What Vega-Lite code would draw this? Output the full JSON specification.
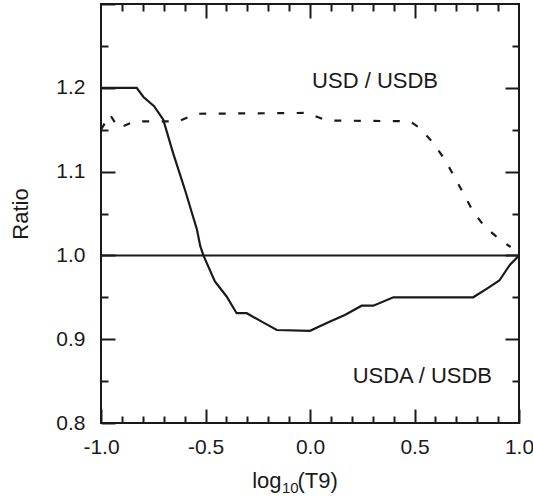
{
  "$schema": "https://vega.github.io/schema/vega-lite/v6.json",
  "width": 418,
  "height": 419,
  "autosize": {"type": "none"},
  "padding": {"left": 101, "top": 4, "right": 14, "bottom": 76},
  "config": {
    "view": {"stroke": "#1a1a1a", "strokeWidth": 2},
    "font": "Liberation Sans",
    "axis": {
      "grid": false,
      "domain": false,
      "tickColor": "#1a1a1a",
      "tickWidth": 2,
      "labelColor": "#1a1a1a",
      "titleColor": "#1a1a1a",
      "labelFont": "Liberation Sans",
      "titleFont": "Liberation Sans",
      "labelFontSize": 21,
      "titleFontSize": 22,
      "titleFontWeight": "normal",
      "labelFlush": false,
      "labelOverlap": false
    }
  },
  "resolve": {"axis": {"x": "independent", "y": "independent"}},
  "layer": [
    {
      "data": {"values": [{"x0": -1, "x1": 1, "ratio": 1.0}]},
      "mark": {"type": "rule", "color": "#1a1a1a", "strokeWidth": 2},
      "encoding": {
        "x": {"field": "x0", "type": "quantitative", "scale": {"domain": [-1, 1], "nice": false, "zero": false},
          "axis": {"orient": "bottom", "ticks": false, "labels": false, "title": "(T9)", "titleAlign": "left", "titleBaseline": "alphabetic", "titleX": 196, "titleY": 64}},
        "x2": {"field": "x1"},
        "y": {"field": "ratio", "type": "quantitative", "scale": {"domain": [0.8, 1.3], "nice": false, "zero": false}, "axis": null}
      }
    },
    {
      "data": {"values": [
        {"logT9": -1.0, "ratio": 1.2},
        {"logT9": -0.829, "ratio": 1.2},
        {"logT9": -0.797, "ratio": 1.189},
        {"logT9": -0.746, "ratio": 1.178},
        {"logT9": -0.702, "ratio": 1.162},
        {"logT9": -0.655, "ratio": 1.122},
        {"logT9": -0.598, "ratio": 1.078},
        {"logT9": -0.541, "ratio": 1.031},
        {"logT9": -0.525, "ratio": 1.011},
        {"logT9": -0.51, "ratio": 1.0},
        {"logT9": -0.455, "ratio": 0.969},
        {"logT9": -0.399, "ratio": 0.951},
        {"logT9": -0.351, "ratio": 0.931},
        {"logT9": -0.303, "ratio": 0.931},
        {"logT9": -0.231, "ratio": 0.921},
        {"logT9": -0.159, "ratio": 0.911},
        {"logT9": 0.0, "ratio": 0.91},
        {"logT9": 0.096, "ratio": 0.921},
        {"logT9": 0.167, "ratio": 0.929},
        {"logT9": 0.247, "ratio": 0.94},
        {"logT9": 0.303, "ratio": 0.94},
        {"logT9": 0.399, "ratio": 0.95},
        {"logT9": 0.781, "ratio": 0.95},
        {"logT9": 0.845, "ratio": 0.96},
        {"logT9": 0.906, "ratio": 0.97},
        {"logT9": 0.957, "ratio": 0.989},
        {"logT9": 1.0, "ratio": 1.0}
      ]},
      "mark": {"type": "line", "color": "#1a1a1a", "strokeWidth": 2.2},
      "encoding": {
        "x": {"field": "logT9", "type": "quantitative", "scale": {"domain": [-1, 1], "nice": false, "zero": false},
          "axis": {"orient": "bottom", "values": [-1, -0.5, 0, 0.5, 1], "tickSize": -14, "labelPadding": 27.5, "labelExpr": "replace(format(datum.value, '.1f'), '−', '-')", "title": "log", "titleAlign": "right", "titleBaseline": "alphabetic", "titleX": 180, "titleY": 64}},
        "y": {"field": "ratio", "type": "quantitative", "scale": {"domain": [0.8, 1.3], "nice": false, "zero": false},
          "axis": {"orient": "left", "values": [0.8, 0.9, 1.0, 1.1, 1.2, 1.3], "tickSize": -14, "labelPadding": 30, "labelExpr": "datum.value > 1.25 ? '' : format(datum.value, '.1f')", "title": "Ratio", "titlePadding": 23}}
      }
    },
    {
      "data": {"values": [
        {"logT9": -1.0, "ratio": 1.15},
        {"logT9": -0.957, "ratio": 1.168},
        {"logT9": -0.917, "ratio": 1.152},
        {"logT9": -0.837, "ratio": 1.16},
        {"logT9": -0.63, "ratio": 1.16},
        {"logT9": -0.542, "ratio": 1.169},
        {"logT9": -0.016, "ratio": 1.17},
        {"logT9": 0.08, "ratio": 1.161},
        {"logT9": 0.478, "ratio": 1.16},
        {"logT9": 0.526, "ratio": 1.152},
        {"logT9": 0.59, "ratio": 1.134},
        {"logT9": 0.646, "ratio": 1.114},
        {"logT9": 0.686, "ratio": 1.096},
        {"logT9": 0.734, "ratio": 1.074},
        {"logT9": 0.781, "ratio": 1.052},
        {"logT9": 0.837, "ratio": 1.034},
        {"logT9": 0.909, "ratio": 1.019},
        {"logT9": 0.96, "ratio": 1.01}
      ]},
      "mark": {"type": "line", "color": "#1a1a1a", "strokeWidth": 2.2, "strokeDash": [7, 12.5]},
      "encoding": {
        "x": {"field": "logT9", "type": "quantitative", "scale": {"domain": [-1, 1], "nice": false, "zero": false},
          "axis": {"orient": "bottom", "values": [-0.9, -0.8, -0.7, -0.6, -0.4, -0.3, -0.2, -0.1, 0.1, 0.2, 0.3, 0.4, 0.6, 0.7, 0.8, 0.9], "tickSize": -7, "labels": false, "title": "10", "titleFontSize": 15, "titleAlign": "left", "titleBaseline": "alphabetic", "titleX": 180.5, "titleY": 69}},
        "y": {"field": "ratio", "type": "quantitative", "scale": {"domain": [0.8, 1.3], "nice": false, "zero": false},
          "axis": {"orient": "left", "values": [0.85, 0.95, 1.05, 1.15, 1.25], "tickSize": -7, "labels": false, "title": null}}
      }
    },
    {
      "data": {"values": [{"logT9": 0.01, "ratio": 1.2, "label": "USD / USDB"}]},
      "mark": {"type": "text", "align": "left", "baseline": "alphabetic", "fontSize": 22, "font": "Liberation Sans", "color": "#1a1a1a"},
      "encoding": {
        "x": {"field": "logT9", "type": "quantitative", "scale": {"domain": [-1, 1], "nice": false, "zero": false},
          "axis": {"orient": "top", "values": [-0.5, 0, 0.5], "tickSize": -14, "labels": false, "title": null}},
        "y": {"field": "ratio", "type": "quantitative", "scale": {"domain": [0.8, 1.3], "nice": false, "zero": false},
          "axis": {"orient": "right", "values": [0.9, 1.0, 1.1, 1.2], "tickSize": -14, "labels": false, "title": null}},
        "text": {"field": "label", "type": "nominal"}
      }
    },
    {
      "data": {"values": [{"logT9": 0.204, "ratio": 0.848, "label": "USDA / USDB"}]},
      "mark": {"type": "text", "align": "left", "baseline": "alphabetic", "fontSize": 22, "font": "Liberation Sans", "color": "#1a1a1a"},
      "encoding": {
        "x": {"field": "logT9", "type": "quantitative", "scale": {"domain": [-1, 1], "nice": false, "zero": false},
          "axis": {"orient": "top", "values": [-0.9, -0.8, -0.7, -0.6, -0.4, -0.3, -0.2, -0.1, 0.1, 0.2, 0.3, 0.4, 0.6, 0.7, 0.8, 0.9], "tickSize": -7, "labels": false, "title": null}},
        "y": {"field": "ratio", "type": "quantitative", "scale": {"domain": [0.8, 1.3], "nice": false, "zero": false},
          "axis": {"orient": "right", "values": [0.85, 0.95, 1.05, 1.15, 1.25], "tickSize": -7, "labels": false, "title": null}},
        "text": {"field": "label", "type": "nominal"}
      }
    }
  ]
}
